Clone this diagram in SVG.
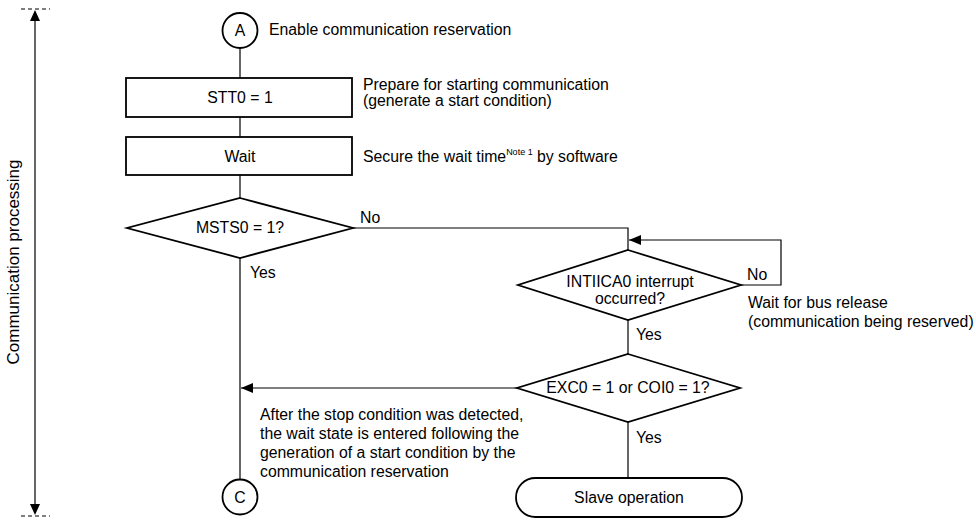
<svg xmlns="http://www.w3.org/2000/svg" width="976" height="523" viewBox="0 0 976 523">
<style>
text{font-family:"Liberation Sans",Arial,sans-serif;font-size:15.8px;fill:#000}
.c{text-anchor:middle}
.shape{fill:#fff;stroke:#000;stroke-width:1.8}
.ln{fill:none;stroke:#000;stroke-width:1.2}
.dash{fill:none;stroke:#000;stroke-width:1.2;stroke-dasharray:4 3}
.sup{font-size:9px}
.vert{font-size:17px}
</style>
<defs>
<marker id="ah" viewBox="0 0 12 10" refX="12" refY="5" markerWidth="12" markerHeight="10" markerUnits="userSpaceOnUse" orient="auto">
<path d="M0,0 L12,5 L0,10 Z" fill="#000"/>
</marker>
</defs>
<g id="connectors">
<line class="ln" x1="240" y1="48" x2="240" y2="78"/>
<line class="ln" x1="240" y1="117" x2="240" y2="137"/>
<line class="ln" x1="240" y1="175" x2="240" y2="198"/>
<line class="ln" x1="240" y1="258" x2="240" y2="479"/>
<polyline class="ln" points="353,228 628,228 628,250"/>
<polyline class="ln" points="741,285 781,285 781,240 629,240" marker-end="url(#ah)"/>
<line class="ln" x1="628" y1="320" x2="628" y2="354"/>
<line class="ln" x1="517" y1="388" x2="241" y2="388" marker-end="url(#ah)"/>
<line class="ln" x1="628" y1="422" x2="628" y2="478"/>
</g>
<g id="range">
<line class="dash" x1="21" y1="9" x2="50" y2="9"/>
<line class="dash" x1="21" y1="516" x2="50" y2="516"/>
<line class="ln" x1="35" y1="20" x2="35" y2="505"/>
<path d="M35,10 L30,21 L40,21 Z" fill="#000"/>
<path d="M35,515 L30,504 L40,504 Z" fill="#000"/>
<text class="c vert" transform="translate(19,262) rotate(-90)">Communication processing</text>
</g>
<g id="nodeA">
<circle class="shape" cx="240" cy="30.5" r="17.5"/>
<text class="c" x="240" y="36">A</text>
<text x="269" y="35">Enable communication reservation</text>
</g>
<g id="stt0">
<rect class="shape" x="126" y="78" width="226" height="39"/>
<text class="c" x="240" y="103">STT0 = 1</text>
<text x="363" y="90">Prepare for starting communication</text>
<text x="363" y="106">(generate a start condition)</text>
</g>
<g id="wait">
<rect class="shape" x="126" y="137" width="226" height="38"/>
<text class="c" x="240" y="162">Wait</text>
<text x="363" y="162">Secure the wait time<tspan class="sup" dy="-7">Note 1</tspan><tspan dy="7"> by software</tspan></text>
</g>
<g id="msts0">
<polygon class="shape" points="240,198 353,228 240,258 127,228"/>
<text class="c" x="240" y="233">MSTS0 = 1?</text>
<text x="360" y="223">No</text>
<text x="250" y="278">Yes</text>
</g>
<g id="intiica0">
<polygon class="shape" points="628,250 741,285 628,320 518,285"/>
<text class="c" x="630" y="287">INTIICA0 interrupt</text>
<text class="c" x="630" y="304">occurred?</text>
<text x="747" y="280">No</text>
<text x="748" y="308">Wait for bus release</text>
<text x="748" y="327">(communication being reserved)</text>
<text x="636" y="340">Yes</text>
</g>
<g id="exc0">
<polygon class="shape" points="628,354 740,388 628,422 517,388"/>
<text class="c" x="628" y="393">EXC0 = 1 or COI0 = 1?</text>
<text x="636" y="443">Yes</text>
<text x="260" y="420">After the stop condition was detected,</text>
<text x="260" y="439">the wait state is entered following the</text>
<text x="260" y="458">generation of a start condition by the</text>
<text x="260" y="477">communication reservation</text>
</g>
<g id="slave">
<rect class="shape" x="516" y="478" width="226" height="39" rx="19.5" ry="19.5"/>
<text class="c" x="629" y="503">Slave operation</text>
</g>
<g id="nodeC">
<circle class="shape" cx="240" cy="497" r="17.5"/>
<text class="c" x="240" y="503">C</text>
</g>
</svg>
